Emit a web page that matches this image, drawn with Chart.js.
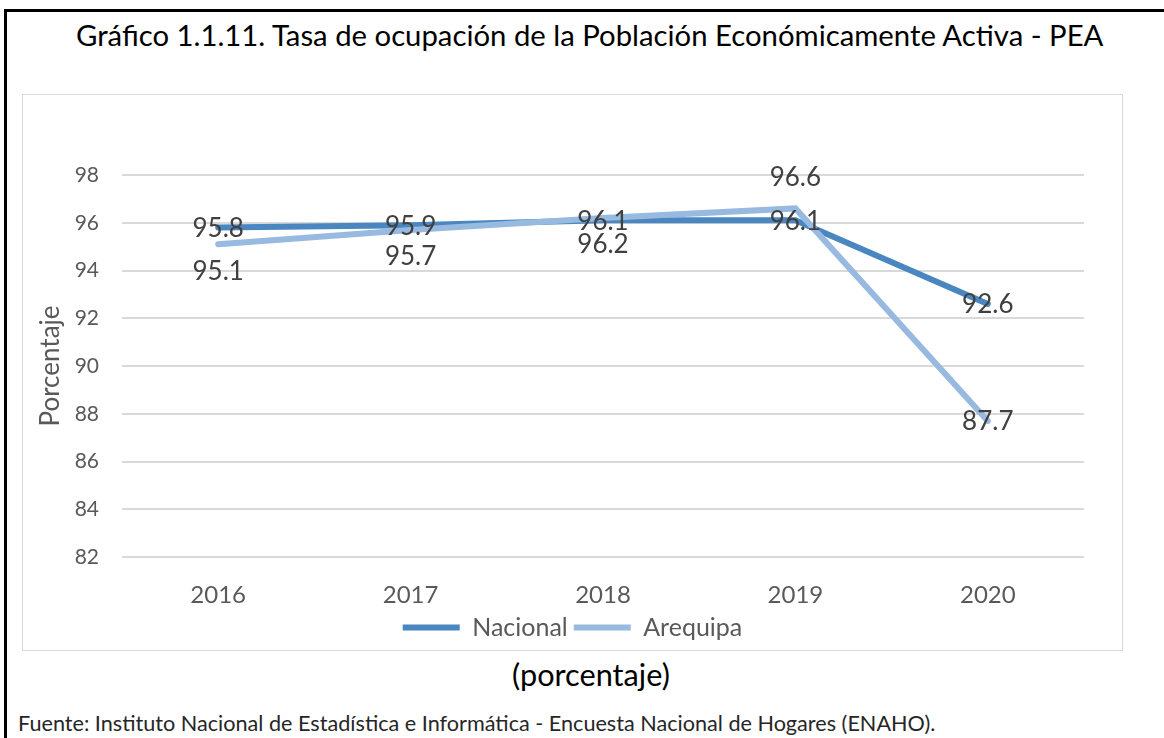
<!DOCTYPE html>
<html>
<head>
<meta charset="utf-8">
<script src="https://cdn.jsdelivr.net/npm/chart.js@4.4.1/dist/chart.umd.min.js"></script>
<style>
  body { margin: 0; width: 1164px; height: 738px; overflow: hidden; background: #fff; position: relative; font-family: Lato, "Open Sans", sans-serif; }
  #frame { position: absolute; left: 4px; top: 9px; width: 1200px; height: 760px; border-left: 3px solid #000; border-top: 3px solid #000; }
  .txt { position: absolute; white-space: nowrap; line-height: 1; color: #000; }
  #footer { color: #262626; }
  #box { position: absolute; left: 22px; top: 94px; width: 1099px; height: 555px; border: 1px solid #d9d9d9; }
  #chart { display: block; }
</style>
</head>
<body>
<div id="frame"></div>
<div class="txt" id="title">Gráfico 1.1.11. Tasa de ocupación de la Población Económicamente Activa - PEA</div>
<div id="box"><canvas id="chart" width="1099" height="555"></canvas></div>
<div class="txt" id="unit">(porcentaje)</div>
<div class="txt" id="footer">Fuente: Instituto Nacional de Estadística e Informática - Encuesta Nacional de Hogares (ENAHO).</div>
<script>
const years = ['2016', '2017', '2018', '2019', '2020'];
const nacional = [95.8, 95.9, 96.1, 96.1, 92.6];
const arequipa = [95.1, 95.7, 96.2, 96.6, 87.7];
const yMin = 82;
const yMax = 98;
const yStep = 2;
// where each value label sits relative to its point
const nacionalLabelPos = ['center', 'center', 'center', 'center', 'center'];
const arequipaLabelPos = ['below', 'below', 'below', 'above', 'center'];

const FONT = 'Lato, "Open Sans", sans-serif';

// size a line of html text to a target width and park its cap-center at (x, cy)
function place(id, width, x, cy, anchor) {
  const el = document.getElementById(id);
  el.style.fontSize = '20px';
  const w = el.getBoundingClientRect().width;
  const size = 20 * width / w;
  el.style.fontSize = size + 'px';
  el.style.left = (anchor === 'center' ? x - width / 2 : x) + 'px';
  el.style.top = (cy - 0.53 * size) + 'px';
}

place('title', 1028, 590, 36, 'center');
place('unit', 158, 591, 676, 'center');
place('footer', 918, 18, 724, 'left');

const valueLabels = {
  id: 'valueLabels',
  afterDatasetsDraw(chart) {
    const ctx = chart.ctx;
    const positions = [nacionalLabelPos, arequipaLabelPos];
    ctx.save();
    ctx.font = '26px ' + FONT;
    ctx.fillStyle = '#404040';
    ctx.textAlign = 'center';
    ctx.textBaseline = 'middle';
    chart.data.datasets.forEach((ds, i) => {
      chart.getDatasetMeta(i).data.forEach((pt, j) => {
        const pos = positions[i][j];
        const dy = pos === 'below' ? 27 : pos === 'above' ? -31 : 1;
        ctx.fillText(ds.data[j].toFixed(1), pt.x, pt.y + dy);
      });
    });
    ctx.restore();
  }
};

new Chart(document.getElementById('chart'), {
  type: 'line',
  data: {
    labels: years,
    datasets: [{
      label: 'Nacional',
      data: nacional,
      borderColor: '#4a86bf',
      backgroundColor: '#4a86bf',
      borderWidth: 6,
      borderCapStyle: 'round',
      pointRadius: 0,
      order: 1
    }, {
      label: 'Arequipa',
      data: arequipa,
      borderColor: '#98b9e0',
      backgroundColor: '#98b9e0',
      borderWidth: 6,
      borderCapStyle: 'round',
      pointRadius: 0,
      order: 0
    }]
  },
  options: {
    responsive: false,
    animation: false,
    devicePixelRatio: 1,
    layout: { padding: { top: 80, right: 0, left: 0, bottom: 0 } },
    plugins: {
      legend: {
        position: 'bottom',
        labels: {
          usePointStyle: true,
          pointStyle: 'line',
          pointStyleWidth: 57,
          padding: 6,
          color: '#595959',
          font: { family: FONT, size: 25 },
          sort: (a, b) => a.datasetIndex - b.datasetIndex
        }
      },
      tooltip: { enabled: false }
    },
    scales: {
      x: {
        offset: true,
        grid: { display: false },
        border: { display: false },
        ticks: { color: '#595959', font: { family: FONT, size: 24 }, padding: 16 },
        afterFit(scale) { scale.height = 52; }
      },
      y: {
        min: yMin,
        max: yMax,
        grid: { color: '#d9d9d9', lineWidth: 2, drawTicks: false },
        border: { display: false },
        ticks: { stepSize: yStep, color: '#595959', font: { family: FONT, size: 21 }, padding: 23 },
        title: {
          display: true,
          text: 'Porcentaje',
          color: '#595959',
          font: { family: FONT, size: 26 },
          padding: { top: 12, bottom: 0 }
        },
        afterFit(scale) { scale.width = 99; }
      },
      // empty right gutter, keeps the legend centred on the whole box
      gutter: {
        type: 'linear',
        position: 'right',
        grid: { display: false },
        border: { display: false },
        ticks: { display: false },
        afterFit(scale) { scale.width = 38; }
      }
    }
  },
  plugins: [valueLabels]
});
</script>
</body>
</html>
